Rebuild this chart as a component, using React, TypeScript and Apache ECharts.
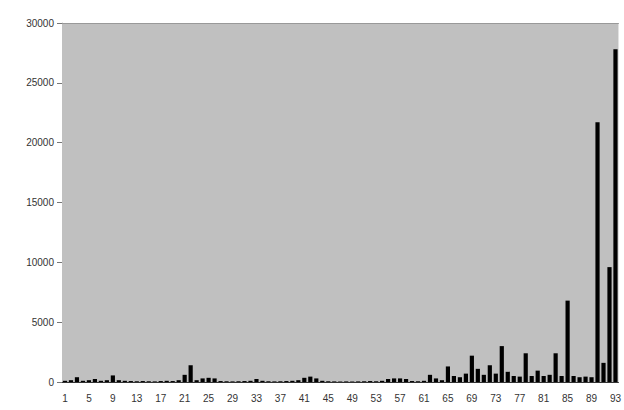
import React, { useEffect, useRef } from "react";
import * as echarts from "echarts";

const categories: string[] = Array.from({ length: 93 }, (_, i) => String(i + 1));

const values: number[] = [
  100, 150, 400, 100, 150, 250, 100, 150, 550, 150,
  100, 80, 60, 80, 60, 50, 80, 100, 80, 150,
  600, 1400, 150, 300, 350, 300, 80, 60, 50, 60,
  80, 100, 250, 100, 60, 50, 60, 80, 100, 150,
  350, 450, 300, 100, 60, 50, 40, 50, 40, 50,
  60, 80, 60, 100, 250, 300, 300, 250, 80, 60,
  100, 600, 300, 150, 1300, 500, 400, 700, 2200, 1100,
  600, 1400, 700, 3000, 850, 500, 450, 2400, 500, 950,
  500, 600, 2400, 500, 6800, 500, 400, 450, 400, 21700,
  1600, 9600, 27800,
];

const yMin = 0;
const yMax = 30000;
const yInterval = 5000;

export default function App() {
  const ref = useRef<HTMLDivElement>(null);

  useEffect(() => {
    if (!ref.current) return;
    const chart = echarts.init(ref.current, null, { renderer: "svg" });
    chart.setOption({
      animation: false,
      backgroundColor: "#ffffff",
      grid: {
        left: 62,
        top: 23,
        right: 0,
        bottom: 28,
        show: true,
        backgroundColor: "#c0c0c0",
        borderWidth: 0,
      },
      xAxis: [
        {
          type: "category",
          data: categories,
          position: "bottom",
          axisLine: { show: true, lineStyle: { color: "#333", width: 1 } },
          axisTick: { show: false },
          axisLabel: {
            interval: 3,
            margin: 11,
            fontSize: 10,
            color: "#333",
            fontFamily: "Liberation Sans",
          },
          splitLine: { show: false },
        },
        {
          type: "category",
          data: categories,
          position: "top",
          axisLine: { show: true, lineStyle: { color: "#999", width: 1 } },
          axisTick: { show: false },
          axisLabel: { show: false },
        },
      ],
      yAxis: {
        type: "value",
        min: yMin,
        max: yMax,
        interval: yInterval,
        axisLine: { show: true, lineStyle: { color: "#c0c0c0" } },
        axisTick: { show: true, length: 5, lineStyle: { color: "#777" } },
        axisLabel: {
          margin: 8,
          fontSize: 10,
          color: "#333",
          fontFamily: "Liberation Sans",
          formatter: (v: number) => String(v),
        },
        splitLine: { show: false },
      },
      series: [
        {
          type: "bar",
          data: values,
          xAxisIndex: 0,
          barCategoryGap: "30%",
          itemStyle: { color: "#000000" },
        },
      ],
    });
    return () => chart.dispose();
  }, []);

  return (
    <div
      ref={ref}
      style={{ position: "fixed", left: 0, top: 0, width: 624, height: 410 }}
    />
  );
}
